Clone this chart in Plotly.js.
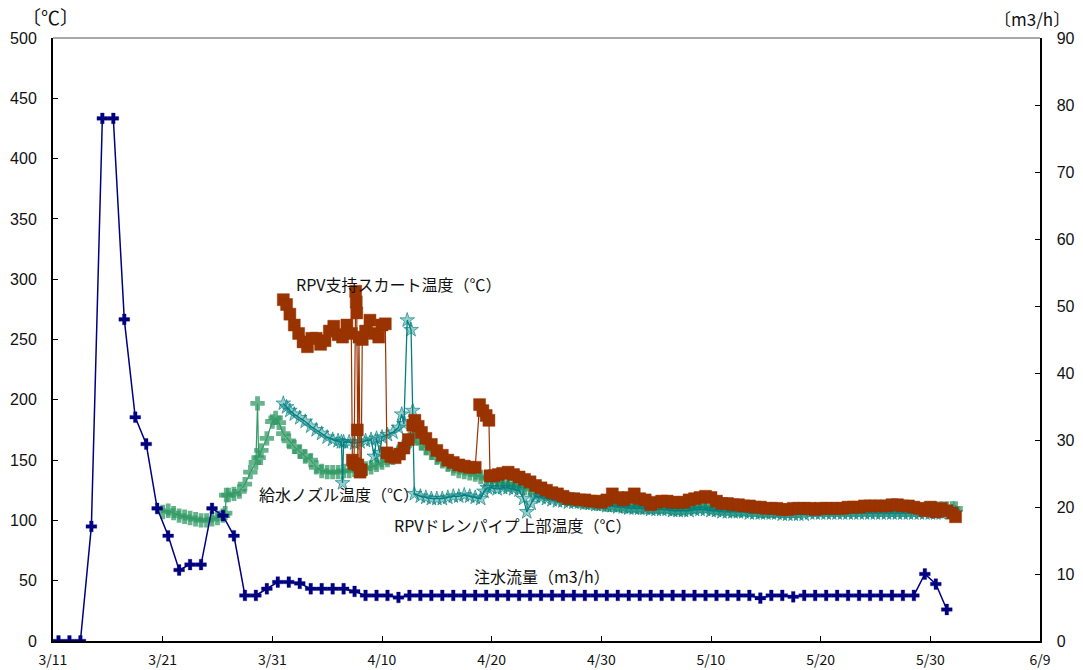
<!DOCTYPE html>
<html>
<head>
<meta charset="utf-8">
<script src="https://cdn.plot.ly/plotly-3.0.1.min.js"></script>
<style>
  html, body { margin: 0; padding: 0; background: #fff; }
  #chart { width: 1083px; height: 670px; }
</style>
</head>
<body>
<div id="chart"></div>
<script>
// Elapsed days since 2011-03-11 00:00 for every reading
const tickDays = [0, 10, 20, 30, 40, 50, 60, 70, 80, 90];
const tickLabels = ['3/11', '3/21', '3/31', '4/10', '4/20', '4/30', '5/10', '5/20', '5/30', '6/9'];

// 注水流量 (m3/h), one reading per day at noon
const flowRate = [
  0, 0, 0, 17.1, 78.0, 78.0, 48.0, 33.4, 29.4, 19.8,
  15.7, 10.6, 11.4, 11.4, 19.8, 18.7, 15.7, 6.8, 6.8, 7.8,
  8.8, 8.8, 8.6, 7.8, 7.8, 7.8, 7.8, 7.4, 6.8, 6.8,
  6.8, 6.5, 6.8, 6.8, 6.8, 6.8, 6.8, 6.8, 6.8, 6.8,
  6.8, 6.8, 6.8, 6.8, 6.8, 6.8, 6.8, 6.8, 6.8, 6.8,
  6.8, 6.8, 6.8, 6.8, 6.8, 6.8, 6.8, 6.8, 6.8, 6.8,
  6.8, 6.8, 6.8, 6.8, 6.4, 6.8, 6.8, 6.6, 6.8, 6.8,
  6.8, 6.8, 6.8, 6.8, 6.8, 6.8, 6.8, 6.8, 6.8, 10.0,
  8.5, 4.7
];

// RPV支持スカート温度 (℃)
const skirtDay = [
  21.0, 21.3, 21.6, 22.0, 22.4, 22.8, 23.2, 23.6, 24.0, 24.4, 24.8, 25.2, 25.6, 26.0, 26.4, 26.8,
  27.2, 27.3, 27.45, 27.6, 27.65, 27.7, 27.75, 27.8, 27.9, 28.0, 28.1, 28.2, 28.5, 28.9, 29.3, 29.7,
  30.0, 30.3, 30.45, 30.8, 31.2, 31.6, 32.0, 32.4, 32.8, 33.0, 33.3, 33.6, 34.0, 34.5, 35.0, 35.5,
  36.0, 36.5, 37.0, 37.5, 38.0, 38.5, 38.9, 39.2, 39.5, 39.75, 39.85, 40.2, 40.6, 41.0, 41.5, 42.0,
  42.5, 43.0, 43.5, 44.0, 44.5, 45.0, 45.5, 46.0, 46.5, 47.0, 47.5, 48.0, 48.5, 49.0, 49.5, 50.0,
  50.5, 51.0, 51.5, 52.0, 52.5, 53.0, 53.5, 54.0, 54.5, 55.0, 55.5, 56.0, 56.5, 57.0, 57.5, 58.0,
  58.5, 59.0, 59.5, 60.0, 60.5, 61.0, 61.5, 62.0, 62.5, 63.0, 63.5, 64.0, 64.5, 65.0, 65.5, 66.0,
  66.5, 67.0, 67.5, 68.0, 68.5, 69.0, 69.5, 70.0, 70.5, 71.0, 71.5, 72.0, 72.5, 73.0, 73.5, 74.0,
  74.5, 75.0, 75.5, 76.0, 76.5, 77.0, 77.5, 78.0, 78.5, 79.0, 79.5, 80.0, 80.5, 81.0, 81.5, 82.0,
  82.3
];
const skirtTemp = [
  283, 279, 271, 262, 255, 248, 244, 251, 251, 246, 249, 257, 261, 254, 252, 262,
  255, 150, 147, 290, 281, 272, 175, 146, 252, 140, 142, 250, 257, 266, 255, 252,
  262, 263, 156, 153, 152, 155, 160, 167, 179, 183, 178, 173, 168, 163, 158, 154,
  150, 148, 146, 145, 144, 144, 196, 191, 187, 183, 137, 137, 138, 139, 140, 138,
  136, 134, 132, 129, 127, 125, 123, 122, 120, 118, 118, 117, 117, 116, 116, 115,
  117, 122, 119, 117, 119, 122, 118, 117, 113, 115, 116, 116, 115, 115, 115, 117,
  118, 119, 120, 119, 116, 114, 114, 113, 113, 112, 112, 111, 111, 110, 110, 110,
  109, 109, 110, 110, 110, 110, 109, 110, 110, 110, 110, 110, 111, 111, 111, 112,
  112, 112, 112, 112, 113, 113, 112, 112, 111, 110, 108, 111, 107, 110, 108, 106,
  103
];

// 給水ノズル温度 (℃)
const nozzleDay = [
  10.0, 10.5, 11.0, 11.5, 12.0, 12.5, 13.0, 13.5, 14.0, 14.5, 15.0, 15.5, 15.7, 15.8, 16.0, 16.5,
  17.0, 17.5, 18.0, 18.5, 18.65, 18.75, 19.0, 19.5, 20.0, 20.3, 20.6, 21.0, 21.5, 22.0, 22.5, 23.0,
  23.5, 24.0, 24.5, 25.0, 25.5, 26.0, 26.5, 27.0, 27.5, 28.0, 28.5, 29.0, 29.5, 30.0, 30.5, 31.0,
  31.5, 32.0, 32.5, 33.0, 33.3, 33.6, 34.0, 34.5, 35.0, 35.5, 36.0, 36.5, 37.0, 37.5, 38.0, 38.5,
  39.0, 39.5, 40.0, 40.5, 41.0, 41.5, 42.0, 42.5, 43.0, 43.5, 44.0, 44.5, 45.0, 45.5, 46.0, 46.5,
  47.0, 47.5, 48.0, 48.5, 49.0, 49.5, 50.0, 50.5, 51.0, 51.5, 52.0, 52.5, 53.0, 53.5, 54.0, 54.5,
  55.0, 55.5, 56.0, 56.5, 57.0, 57.5, 58.0, 58.5, 59.0, 59.5, 60.0, 60.5, 61.0, 61.5, 62.0, 62.5,
  63.0, 63.5, 64.0, 64.5, 65.0, 65.5, 66.0, 66.5, 67.0, 67.5, 68.0, 68.5, 69.0, 69.5, 70.0, 70.5,
  71.0, 71.5, 72.0, 72.5, 73.0, 73.5, 74.0, 74.5, 75.0, 75.5, 76.0, 76.5, 77.0, 77.5, 78.0, 78.5,
  79.0, 79.5, 80.0, 80.5, 81.0, 81.5, 82.0, 82.3
];
const nozzleTemp = [
  107, 108, 106, 104, 103, 102, 101, 100, 100, 101, 102, 104, 106, 121, 121, 122,
  124, 130, 140, 148, 197, 152, 158, 168, 182, 185, 181, 172, 166, 161, 157, 153,
  150, 144, 141, 140, 140, 140, 141, 141, 142, 143, 143, 144, 146, 148, 150, 152,
  156, 161, 166, 172, 168, 164, 160, 156, 152, 149, 146, 143, 141, 140, 139, 138,
  136, 135, 133, 132, 131, 130, 130, 129, 127, 126, 124, 123, 122, 121, 120, 119,
  118, 117, 116, 115, 115, 114, 114, 113, 113, 113, 112, 112, 112, 111, 111, 111,
  111, 111, 111, 110, 110, 110, 111, 111, 112, 112, 111, 110, 110, 110, 109, 109,
  109, 109, 109, 108, 108, 108, 108, 108, 108, 108, 108, 109, 109, 109, 109, 109,
  109, 109, 109, 109, 109, 109, 109, 109, 109, 109, 109, 109, 109, 109, 109, 109,
  109, 109, 110, 110, 110, 110, 110, 110
];

// RPVドレンパイプ上部温度 (℃)
const drainDay = [
  21.0, 21.3, 21.6, 22.0, 22.5, 23.0, 23.5, 24.0, 24.5, 25.0, 25.5, 26.0, 26.3, 26.4, 26.5, 27.0,
  27.5, 28.0, 28.5, 29.0, 29.3, 29.5, 29.8, 30.0, 30.5, 31.0, 31.5, 31.8, 32.0, 32.3, 32.65, 32.8,
  32.95, 33.5, 34.0, 34.5, 35.0, 35.5, 36.0, 36.5, 37.0, 37.5, 38.0, 38.5, 39.0, 39.3, 39.6, 40.0,
  40.5, 41.0, 41.5, 42.0, 42.5, 42.9, 43.2, 43.6, 44.0, 44.5, 45.0, 45.5, 46.0, 46.5, 47.0, 47.5,
  48.0, 48.5, 49.0, 49.5, 50.0, 50.5, 51.0, 51.5, 52.0, 52.5, 53.0, 53.5, 54.0, 54.5, 55.0, 55.5,
  56.0, 56.5, 57.0, 57.5, 58.0, 58.5, 59.0, 59.5, 60.0, 60.5, 61.0, 61.5, 62.0, 62.5, 63.0, 63.5,
  64.0, 64.5, 65.0, 65.5, 66.0, 66.5, 67.0, 67.5, 68.0, 68.5, 69.0, 69.5, 70.0, 70.5, 71.0, 71.5,
  72.0, 72.5, 73.0, 73.5, 74.0, 74.5, 75.0, 75.5, 76.0, 76.5, 77.0, 77.5, 78.0, 78.5, 79.0, 79.5,
  80.0, 80.5, 81.0, 81.5, 82.0, 82.3
];
const drainTemp = [
  197, 194, 191, 188, 185, 182, 178, 175, 172, 169, 167, 166, 165, 131, 165, 165,
  164, 165, 166, 167, 153, 168, 156, 169, 171, 173, 177, 188, 180, 266, 258, 191,
  122, 120, 119, 118, 118, 118, 119, 120, 120, 121, 120, 119, 118, 124, 127, 127,
  126, 127, 127, 126, 125, 118, 107, 114, 120, 119, 118, 117, 116, 116, 115, 115,
  115, 114, 114, 113, 113, 112, 112, 111, 111, 110, 110, 110, 110, 109, 109, 109,
  109, 108, 108, 108, 108, 109, 109, 109, 108, 108, 107, 107, 107, 107, 107, 106,
  106, 106, 106, 106, 106, 105, 105, 105, 105, 105, 106, 106, 106, 106, 106, 106,
  106, 106, 106, 106, 106, 106, 106, 106, 106, 106, 106, 106, 106, 106, 106, 106,
  106, 106, 106, 107, 107, 106
];

const BASE = Date.UTC(2011, 2, 11);
const DAY_MS = 86400000;
const toTime = d => BASE + d * DAY_MS;

const flowTime = flowRate.map((_, i) => toTime(i + 0.5));

const JP = '"Noto Sans CJK JP", "Noto Sans", sans-serif';

const traces = [
  {
    x: nozzleDay.map(toTime), y: nozzleTemp, yaxis: 'y',
    mode: 'lines+markers', name: '給水ノズル温度',
    line: { color: '#339966', width: 1.2 },
    marker: { symbol: 'cross', size: 12, color: 'rgba(51,153,102,0.75)', line: { width: 0 } }
  },
  {
    x: drainDay.map(toTime), y: drainTemp, yaxis: 'y',
    mode: 'lines+markers', name: 'RPVドレンパイプ上部温度',
    line: { color: '#008080', width: 1.3 },
    marker: { symbol: 'star', size: 11, color: 'rgba(0,128,128,0.4)', line: { width: 0.8, color: 'rgba(0,128,128,0.8)' } }
  },
  {
    x: skirtDay.map(toTime), y: skirtTemp, yaxis: 'y',
    mode: 'lines+markers', name: 'RPV支持スカート温度',
    line: { color: '#993300', width: 1.2 },
    marker: { symbol: 'square', size: 12, color: '#993300', line: { width: 1, color: 'rgba(153,51,0,0.45)' } }
  },
  {
    x: flowTime, y: flowRate, yaxis: 'y2',
    mode: 'lines+markers', name: '注水流量',
    line: { color: '#000080', width: 1.5 },
    marker: { symbol: 'cross', size: 9, color: '#000080', line: { width: 1, color: 'rgba(0,0,128,0.3)' } }
  }
];

const axisFont = { family: '"Liberation Sans", Arial, sans-serif', size: 16, color: '#111' };

const layout = {
  width: 1083, height: 670,
  margin: { l: 53, r: 43, t: 38, b: 29 },
  paper_bgcolor: '#fff', plot_bgcolor: '#fff',
  showlegend: false,
  hovermode: false,
  xaxis: {
    type: 'date',
    range: [toTime(0), toTime(90)],
    tickmode: 'array',
    tickvals: tickDays.map(toTime),
    ticktext: tickLabels,
    ticks: 'inside', ticklen: 5, tickwidth: 1, tickcolor: '#000',
    showline: true, linecolor: '#000', linewidth: 2,
    showgrid: false, zeroline: false,
    tickfont: { family: JP, size: 14, color: '#111' },
    ticklabelstandoff: 5
  },
  yaxis: {
    range: [0, 500], dtick: 50, tick0: 0,
    ticks: 'inside', ticklen: 5, tickwidth: 1, tickcolor: '#000',
    showline: true, linecolor: '#000', linewidth: 2,
    showgrid: false, zeroline: false,
    tickfont: axisFont,
    ticklabelstandoff: 11
  },
  yaxis2: {
    overlaying: 'y', side: 'right',
    range: [0, 90], dtick: 10, tick0: 0,
    ticks: 'inside', ticklen: 5, tickwidth: 1, tickcolor: '#000',
    showline: true, linecolor: '#000', linewidth: 1.5,
    showgrid: false, zeroline: false,
    tickfont: axisFont,
    ticklabelstandoff: 12
  },
  shapes: [
    { type: 'line', xref: 'paper', yref: 'paper', x0: 0, x1: 1, y0: 1, y1: 1,
      line: { color: '#555', width: 1 } }
  ],
  annotations: [
    { xref: 'paper', yref: 'paper', x: -0.003, y: 1.035, text: '〔℃〕', showarrow: false,
      xanchor: 'center', yanchor: 'middle', font: { family: JP, size: 19, color: '#111' } },
    { xref: 'paper', yref: 'paper', x: 0.992, y: 1.032, text: '〔m3/h〕', showarrow: false,
      xanchor: 'center', yanchor: 'middle', font: { family: JP, size: 17, color: '#111' } },
    { xref: 'x', yref: 'y', x: toTime(31.55), y: 296, text: 'RPV支持スカート温度（℃）', showarrow: false,
      xanchor: 'center', yanchor: 'middle', font: { family: JP, size: 16, color: '#111' } },
    { xref: 'x', yref: 'y', x: toTime(26.12), y: 122, text: '給水ノズル温度（℃）', showarrow: false,
      xanchor: 'center', yanchor: 'middle', font: { family: JP, size: 16, color: '#111' } },
    { xref: 'x', yref: 'y', x: toTime(41.9), y: 96, text: 'RPVドレンパイプ上部温度（℃）', showarrow: false,
      xanchor: 'center', yanchor: 'middle', font: { family: JP, size: 16, color: '#111' } },
    { xref: 'x', yref: 'y', x: toTime(44.6), y: 53.5, text: '注水流量（m3/h）', showarrow: false,
      xanchor: 'center', yanchor: 'middle', font: { family: JP, size: 16, color: '#111' } }
  ]
};

Plotly.newPlot('chart', traces, layout, { staticPlot: true, displayModeBar: false });
</script>
</body>
</html>
